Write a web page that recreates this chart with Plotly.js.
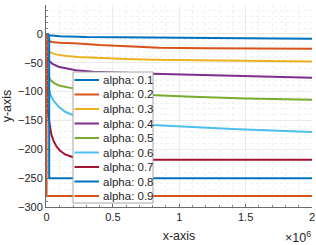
<!DOCTYPE html>
<html>
<head>
<meta charset="utf-8">
<script src="https://cdn.plot.ly/plotly-3.0.1.min.js"></script>
<style>
html,body{margin:0;padding:0;background:#fff;}
#chart{width:316px;height:245px;}
</style>
</head>
<body>
<div id="chart"></div>
<script>
// ---- data ----
const seriesNames = ["alpha: 0.1","alpha: 0.2","alpha: 0.3","alpha: 0.4","alpha: 0.5","alpha: 0.6","alpha: 0.7","alpha: 0.8","alpha: 0.9"];

const x1 = [0, 2000, 20000, 100000, 300000, 600000, 1000000, 1500000, 2000000];
const y1 = [0, -1.5, -2.5, -4, -5.5, -6.3, -7, -7.8, -8.5];

const x2 = [0, 1000, 5000, 15000, 40000, 100000, 240000, 400000, 600000, 850000, 1200000, 1600000, 2000000];
const y2 = [0, -5, -9, -12, -14, -15.5, -16.5, -19.5, -22, -24, -25, -25.5, -26];

const x3 = [0, 2000, 8000, 20000, 40000, 80000, 150000, 240000, 400000, 600000, 800000, 1200000, 1600000, 2000000];
const y3 = [0, -22, -27, -31, -33.5, -36, -38.5, -40, -42, -43.5, -45, -46.2, -47.2, -48];

const x4 = [0, 2000, 7500, 20000, 45000, 90000, 150000, 220000, 350000, 550000, 800000, 1100000, 1400000, 1700000, 2000000];
const y4 = [0, -30, -40, -47, -52, -57, -60, -63, -65.5, -67.5, -69, -71, -72.5, -74, -76];

const x5 = [0, 3000, 8000, 15000, 30000, 60000, 100000, 190000, 300000, 500000, 780000, 1100000, 1500000, 2000000];
const y5 = [0, -60, -68, -74, -80, -86, -90, -94, -98, -102, -106, -109, -112, -114];

const x6 = [0, 3000, 8000, 15000, 30000, 50000, 90000, 140000, 200000, 300000, 450000, 600000, 800000, 1100000, 1400000, 1700000, 2000000];
const y6 = [0, -80, -88, -94, -106, -115, -126, -135, -141, -147, -151, -154, -158, -162, -165, -167.5, -170];

const x7 = [0, 3000, 8000, 15000, 25000, 37000, 52000, 75000, 100000, 140000, 190000, 260000, 350000, 500000, 2000000];
const y7 = [0, -110, -130, -145, -162, -175, -185, -195, -202, -209, -213, -216, -217.5, -218, -218];

const x8 = [0, 20000, 20000, 2000000];
const y8 = [0, -3, -250, -250];

const x9 = [0, 0, 2000000];
const y9 = [0, -281, -281];

const xTickVals = [0, 500000, 1000000, 1500000, 2000000];
const xTickText = ["0", "0.5", "1", "1.5", "2"];
const yTickVals = [-300, -250, -200, -150, -100, -50, 0, 50];

// ---- styling ----
const colors = ["#0072BD","#D95319","#EDB120","#7E2F8E","#77AC30","#4DBEEE","#A2142F","#0072BD","#D95319"];
const xs = [x1,x2,x3,x4,x5,x6,x7,x8,x9];
const ys = [y1,y2,y3,y4,y5,y6,y7,y8,y9];

const FONT = "Liberation Sans, Arial, Helvetica, sans-serif";
const W = 316, H = 245;
const L = 46, R = 312, T = 5, B = 207;
const px = v => (v - L) / (R - L);
const py = v => (B - v) / (B - T);

const traces = xs.map((x, i) => ({
  type: "scatter", mode: "lines", x: x, y: ys[i], name: seriesNames[i],
  line: {color: colors[i], width: 2}, showlegend: false, hoverinfo: "skip"
}));

// legend drawn as shapes + annotations to match the compact box
const shapes = [{
  type: "rect", xref: "paper", yref: "paper",
  x0: px(73), x1: px(153), y0: py(203), y1: py(72),
  line: {color: "#a6a6a6", width: 1}, fillcolor: "#ffffff", layer: "above"
}];
const annotations = [];
seriesNames.forEach((n, i) => {
  const yy = 80 + 14.5 * i;
  shapes.push({type: "line", xref: "paper", yref: "paper",
    x0: px(74.5), x1: px(99), y0: py(yy), y1: py(yy),
    line: {color: colors[i], width: 2}, layer: "above"});
  annotations.push({xref: "paper", yref: "paper", x: px(100.5), y: py(yy),
    xanchor: "left", yanchor: "middle", showarrow: false, text: n,
    font: {family: FONT, size: 11.5, color: "#262626"}});
});
annotations.push({xref: "paper", yref: "paper", x: 1.003, y: py(237),
  xanchor: "right", yanchor: "middle", showarrow: false,
  text: "\u00d710<sup>6</sup>", font: {family: FONT, size: 12.5, color: "#262626"}});

const axisCommon = {
  showline: true, linecolor: "#6b6b6b", linewidth: 1,
  ticks: "inside", ticklen: 3, tickcolor: "#6b6b6b",
  showgrid: true, gridcolor: "#ebebeb", gridwidth: 1,
  zeroline: false, mirror: false,
  tickfont: {family: FONT, size: 11, color: "#262626"}
};

const layout = {
  width: W, height: H,
  margin: {l: L, r: W - R, t: T, b: H - B, pad: 0},
  paper_bgcolor: "#ffffff", plot_bgcolor: "#ffffff",
  showlegend: false,
  xaxis: Object.assign({}, axisCommon, {
    range: [-4000, 2000000], tickmode: "array", tickvals: xTickVals, ticktext: xTickText,
    minor: {dtick: 100000, tick0: 0, showgrid: true, gridcolor: "#f1f1f1", griddash: "dot", ticks: "inside", ticklen: 2, tickcolor: "#8a8a8a"},
    title: {text: "x-axis", font: {family: FONT, size: 12.5, color: "#262626"}, standoff: 9}
  }),
  yaxis: Object.assign({}, axisCommon, {
    range: [-300, 50], tickmode: "array", tickvals: yTickVals,
    minor: {dtick: 10, tick0: 0, showgrid: true, gridcolor: "#f1f1f1", griddash: "dot", ticks: "inside", ticklen: 2, tickcolor: "#8a8a8a"},
    title: {text: "y-axis", font: {family: FONT, size: 12.5, color: "#262626"}, standoff: 4}
  }),
  shapes: shapes,
  annotations: annotations
};

Plotly.newPlot("chart", traces, layout, {staticPlot: true, displayModeBar: false});
</script>
</body>
</html>
